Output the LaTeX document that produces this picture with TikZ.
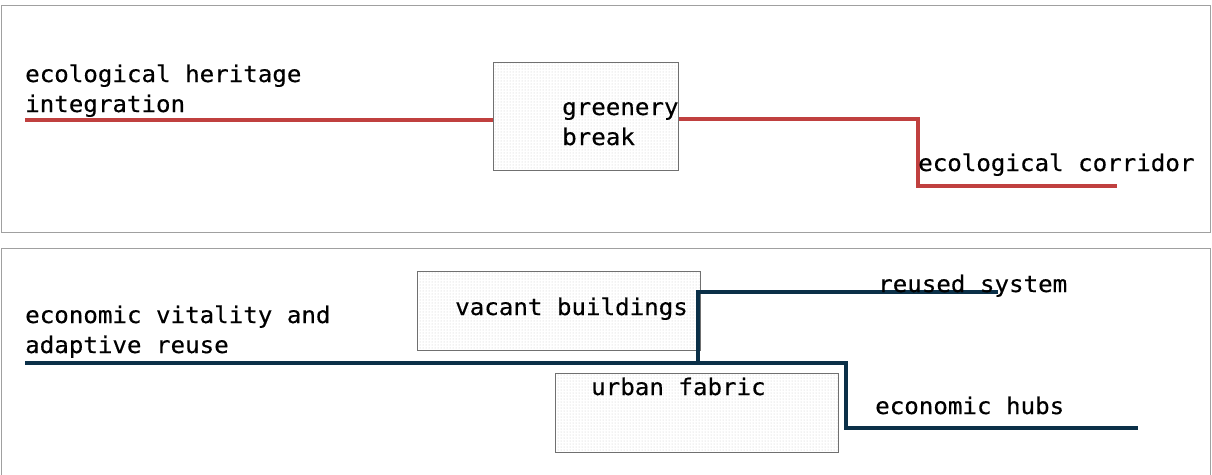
\documentclass[tikz,border=0pt]{standalone}
\usepackage{fontspec}
\setmonofont[FakeStretch=1.05,FakeBold=0.4]{DejaVu Sans Mono}
\usetikzlibrary{patterns}
\definecolor{ecored}{HTML}{C0403F}
\definecolor{econavy}{HTML}{0B3048}
\definecolor{panelgray}{HTML}{A0A0A0}
\definecolor{boxgray}{HTML}{707070}
\begin{document}
\begin{tikzpicture}[x=1pt,y=-1pt,
 lbl/.style={font=\ttfamily\fontsize{23}{30}\selectfont, inner sep=0pt, anchor=base west, align=left, text=black},
 panel/.style={draw=panelgray, line width=0.9pt},
 hbox/.style={draw=boxgray, line width=0.9pt, pattern=dots, pattern color=gray!45, rectangle, inner sep=0pt, anchor=north west},
 redline/.style={draw=ecored, line width=3.4pt},
 navyline/.style={draw=econavy, line width=3.4pt}]
\useasboundingbox (0,0) rectangle (1212,474);
% panels
\draw[panel] (1,5) rectangle (1210,232);
\draw[panel] (1,248) rectangle (1210,490);
% boxes
\node[hbox, minimum width=185pt, minimum height=108pt] (gb) at (493,62) {};
\node[hbox, minimum width=283pt, minimum height=79pt] (vb) at (417,271) {};
\node[hbox, minimum width=283pt, minimum height=79pt] (uf) at (555,373) {};
% coordinates
\coordinate (ehs) at (25,120);
\coordinate (ecA) at (918,119);
\coordinate (ecB) at (918,186);
\coordinate (ecE) at (1117,186);
\coordinate (evs) at (25,363);
\coordinate (evA) at (846,363);
\coordinate (evB) at (846,428);
\coordinate (ehE) at (1138,428);
\coordinate (brA) at (698,363);
\coordinate (brB) at (698,292);
\coordinate (rsE) at (998,292);
% connectors
\draw[redline] (ehs) -- (ehs -| gb.west);
\draw[redline] (gb.east |- ecA) -- (ecA) -- (ecB) -- (ecE);
\draw[navyline] (evs) -- (evA) -- (evB) -- (ehE);
\draw[navyline] (brA) -- (brB) -- (rsE);
% labels
\node[lbl] (eht) at (25,112) {ecological heritage\\integration};
\node[lbl] (gbt) at (562,145) {greenery\\break};
\node[lbl] (ect) at (918,171) {ecological corridor};
\node[lbl] (evt) at (25,353) {economic vitality and\\adaptive reuse};
\node[lbl] (vbt) at (455,315) {vacant buildings};
\node[lbl] (uft) at (591,395) {urban fabric};
\node[lbl] (rst) at (878,292) {reused system};
\node[lbl] (hbt) at (875,414) {economic hubs};
\end{tikzpicture}
\end{document}
